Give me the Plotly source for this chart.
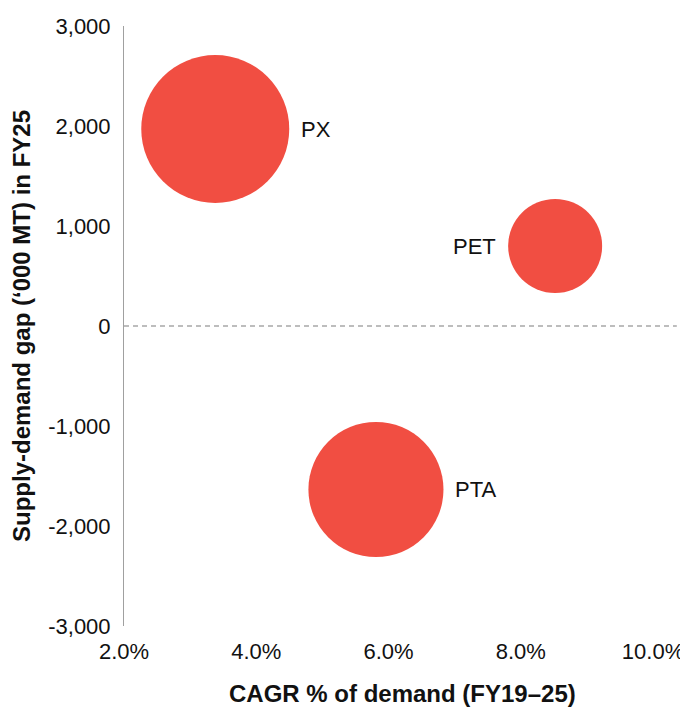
import plotly.graph_objects as go

products = ["PX", "PET", "PTA"]
cagr_pct = [3.38, 8.52, 5.81]
gap_kmt = [1970, 800, -1635]
bubble_value = [5.5, 2.22, 4.58]
label_side = [1, -1, 1]  # 1 = label right of bubble, -1 = left

x_ticks = [2, 4, 6, 8, 10]
x_ticktext = [f"{v:.1f}%" for v in x_ticks]
y_ticks = [-3000, -2000, -1000, 0, 1000, 2000, 3000]
y_ticktext = [f"{v:,}" for v in y_ticks]

max_diam = 148
sizeref = 2 * max(bubble_value) / max_diam ** 2
diams = [2 * (v / (2 * sizeref)) ** 0.5 for v in bubble_value]

RED = "#F14E42"
TXT = "#111111"
FONT = "Liberation Sans"

fig = go.Figure()
fig.add_trace(go.Scatter(
    x=cagr_pct, y=gap_kmt, mode="markers",
    marker=dict(size=bubble_value, sizemode="area", sizeref=sizeref,
                color=RED, opacity=1, line=dict(width=0)),
    cliponaxis=False, hoverinfo="skip", showlegend=False,
))

for name, xv, yv, d, side in zip(products, cagr_pct, gap_kmt, diams, label_side):
    fig.add_annotation(
        x=xv, y=yv, xref="x", yref="y", text=name, showarrow=False,
        xanchor="left" if side > 0 else "right", yanchor="middle",
        xshift=side * (d / 2 + 10),
        font=dict(family=FONT, size=22, color=TXT),
    )

# x-axis title (placed as annotation to match the reference's offset)
fig.add_annotation(
    x=0.527, y=-0.112, xref="paper", yref="paper", showarrow=False,
    xanchor="center", yanchor="middle",
    text="<b>CAGR % of demand (FY19–25)</b>",
    font=dict(family=FONT, size=24, color=TXT),
)

fig.add_shape(type="line", xref="paper", yref="y", x0=0, x1=1.045, y0=0, y1=0,
              line=dict(color="#A8A8A8", width=1.5, dash="5px,4px"))

fig.update_layout(
    width=680, height=700,
    margin=dict(l=116, r=35, t=18, b=82),
    paper_bgcolor="white", plot_bgcolor="white",
    font=dict(family=FONT, color=TXT),
    xaxis=dict(range=[2, 10], tickvals=x_ticks, ticktext=x_ticktext,
               showgrid=False, zeroline=False, showline=False, ticks="",
               tickfont=dict(size=22), ticklabelstandoff=10, automargin=False),
    yaxis=dict(range=[-3000, 3000], tickvals=y_ticks, ticktext=y_ticktext,
               showgrid=False, zeroline=False, showline=True,
               linecolor="#A0A0A0", linewidth=1, ticks="",
               tickfont=dict(size=22), ticklabelstandoff=8, automargin=False,
               title=dict(text="<b>Supply-demand gap (‘000 MT) in FY25</b>",
                          font=dict(size=24), standoff=16)),
)

fig.write_html("out.html")
